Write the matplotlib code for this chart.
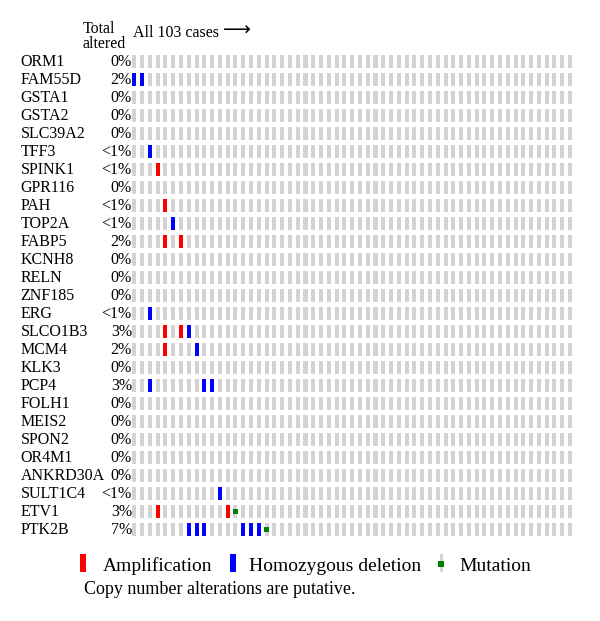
import matplotlib
matplotlib.use('Agg')
import matplotlib.pyplot as plt
from matplotlib.patches import Rectangle
from matplotlib.transforms import blended_transform_factory

# data read from the oncoprint
genes = ['ORM1', 'FAM55D', 'GSTA1', 'GSTA2', 'SLC39A2', 'TFF3', 'SPINK1', 'GPR116',
         'PAH', 'TOP2A', 'FABP5', 'KCNH8', 'RELN', 'ZNF185', 'ERG', 'SLCO1B3',
         'MCM4', 'KLK3', 'PCP4', 'FOLH1', 'MEIS2', 'SPON2', 'OR4M1', 'ANKRD30A',
         'SULT1C4', 'ETV1', 'PTK2B']
pct_altered = ['0%', '2%', '0%', '0%', '0%', '<1%', '<1%', '0%',
               '<1%', '<1%', '2%', '0%', '0%', '0%', '<1%', '3%',
               '2%', '0%', '3%', '0%', '0%', '0%', '0%', '0%',
               '<1%', '3%', '7%']
n_cols = 57

amplification = {'SPINK1': [3], 'PAH': [4], 'FABP5': [4, 6], 'SLCO1B3': [4, 6],
                 'MCM4': [4], 'ETV1': [3, 12]}
deletion = {'FAM55D': [0, 1], 'TFF3': [2], 'TOP2A': [5], 'ERG': [2],
            'SLCO1B3': [7], 'MCM4': [8], 'PCP4': [2, 9, 10], 'SULT1C4': [11],
            'PTK2B': [7, 8, 9, 14, 15, 16]}
mutation = {'ETV1': [13], 'PTK2B': [17]}

W, H = 600, 621
plt.rcParams['font.family'] = ['Liberation Serif', 'DejaVu Serif', 'DejaVu Sans']

fig = plt.figure(figsize=(W / 100, H / 100), dpi=100)


def fx(x):
    return x / W


def fy(y):
    return 1 - y / H


# grid axes: x in case index, y in gene index
left, right = 132.3, 132.3 + n_cols * 7.78
top, bottom = 52.5, 538.5
ax = fig.add_axes([fx(left), fy(bottom), fx(right - left), (bottom - top) / H])
ax.set_xlim(0, n_cols)
ax.set_ylim(len(genes) - 0.5, -0.5)
ax.axis('off')
name_tf = blended_transform_factory(fig.transFigure, ax.transData)

bw, bh = 0.52, 0.73
for i, g in enumerate(genes):
    ax.bar(range(n_cols), bh, width=bw, bottom=i - bh / 2, align='edge',
           color='#d3d3d3', linewidth=0)
    for c in amplification.get(g, []):
        ax.bar(c, bh, width=bw, bottom=i - bh / 2, align='edge', color='#ff0000', linewidth=0)
    for c in deletion.get(g, []):
        ax.bar(c, bh, width=bw, bottom=i - bh / 2, align='edge', color='#0000ff', linewidth=0)
    for c in mutation.get(g, []):
        ax.bar(c + bw / 2, 0.28, width=0.6, bottom=i - 0.14, align='center',
               color='#008000', linewidth=0)
    ax.text(fx(20.7), i, g, transform=name_tf, fontsize=11.5, va='center', ha='left')
    ax.text(-0.05, i, pct_altered[i], fontsize=11.5, va='center', ha='right')

# header
fig.text(fx(82.7), fy(33), 'Total', fontsize=11.5, ha='left', va='baseline')
fig.text(fx(82.7), fy(48), 'altered', fontsize=11.5, ha='left', va='baseline')
fig.text(fx(133), fy(37), 'All 103 cases', fontsize=11.5, ha='left', va='baseline')
fig.text(fx(223), fy(36), '\u27f6', fontsize=14, ha='left', va='baseline',
         family='DejaVu Sans')

# legend
fig.add_artist(Rectangle((fx(80), fy(572)), fx(6), 18 / H, color='#ff0000', lw=0,
                         transform=fig.transFigure))
fig.text(fx(102.5), fy(571), 'Amplification', fontsize=14, ha='left', va='baseline')
fig.add_artist(Rectangle((fx(230), fy(572)), fx(6), 18 / H, color='#0000ff', lw=0,
                         transform=fig.transFigure))
fig.text(fx(249), fy(571), 'Homozygous deletion', fontsize=14, ha='left', va='baseline')
fig.add_artist(Rectangle((fx(439.5), fy(572)), fx(3), 18 / H, color='#d3d3d3', lw=0,
                         transform=fig.transFigure))
fig.add_artist(Rectangle((fx(438), fy(567)), fx(6), 6 / H, color='#008000', lw=0,
                         transform=fig.transFigure))
fig.text(fx(459), fy(571), 'Mutation', fontsize=14, ha='left', va='baseline')
fig.text(fx(84), fy(594), 'Copy number alterations are putative.', fontsize=13,
         ha='left', va='baseline')

fig.savefig('out.png', dpi=100)
